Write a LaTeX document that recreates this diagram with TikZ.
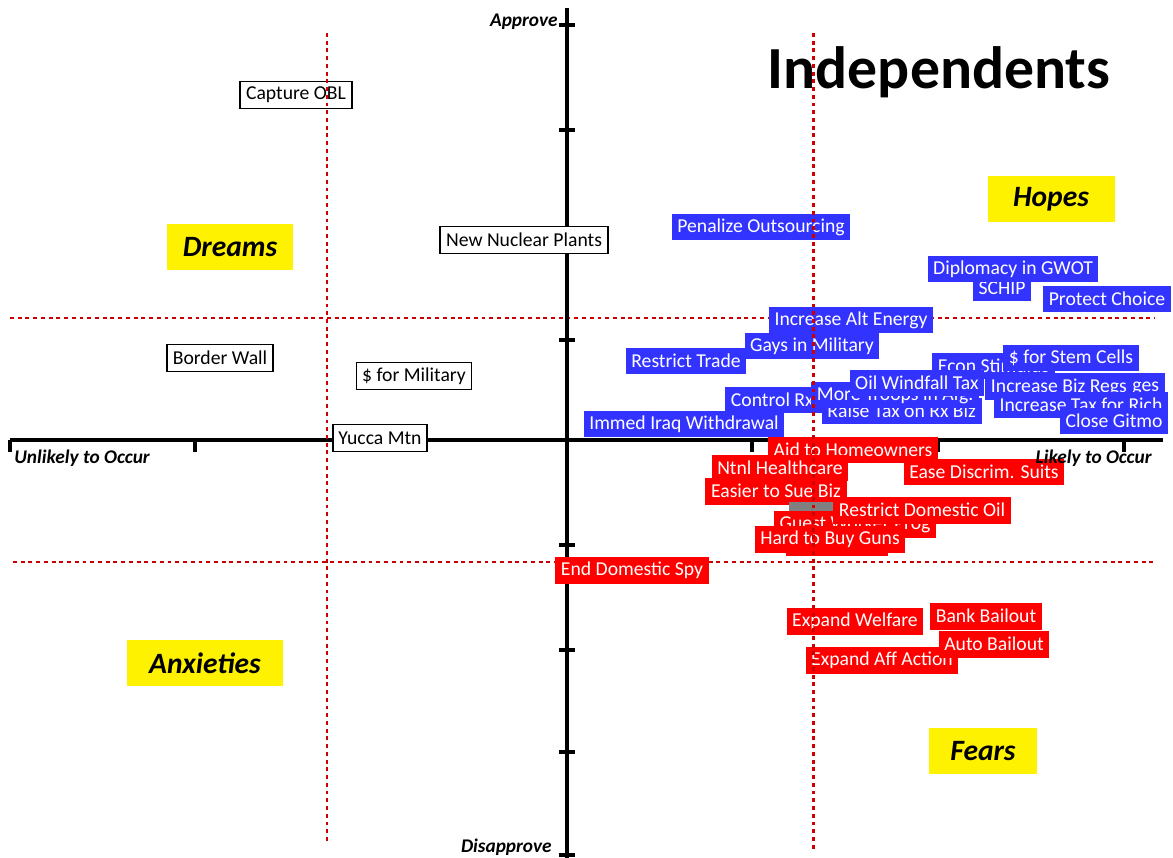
\documentclass[tikz,border=0pt]{standalone}
\usepackage{fontspec}
\setmainfont{Carlito}
\usetikzlibrary{positioning}
\definecolor{hopeblue}{RGB}{51,51,255}
\definecolor{fearred}{RGB}{255,0,0}
\definecolor{guidered}{RGB}{204,0,0}
\definecolor{hiddengrey}{RGB}{128,128,128}

\begin{document}
\begin{tikzpicture}[
    x=0.02cm, y=-0.02cm,
    issue/.style={rectangle, inner xsep=3.2pt, inner ysep=0pt, minimum height=0.54cm, font=\fontsize{11.2}{13}\selectfont},
    plain/.style={issue, draw=black, line width=1.1pt, fill=white, text=black},
    hope/.style={issue, fill=hopeblue, text=white},
    fear/.style={issue, fill=fearred, text=white},
    quad/.style={rectangle, fill=yellow, minimum height=0.92cm, font=\fontsize{16.8}{19}\selectfont\bfseries\itshape},
    axislabel/.style={inner sep=0pt, font=\fontsize{11}{13}\selectfont\bfseries\itshape},
    axis/.style={line width=2.8pt},
    tick/.style={line width=2pt},
    guide/.style={guidered, line width=1.7pt, dash pattern=on 2.2pt off 2.2pt}
]
    \useasboundingbox (0,0) rectangle (1173,858);

    % horizontal guides
    \draw[guide] (10,318) -- (1155,318);
    \draw[guide] (13,562) -- (1155,562);

    % axes
    \draw[axis] (10,440) -- (1163,440);
    \draw[axis] (567,8) -- (567,858);
    \foreach \tx in {10,195,381,752,938,1124}
        \draw[tick] (\tx,440) -- (\tx,452);
    \foreach \ty in {25,130,235,340,545,650,752,855}
        \draw[tick] (559,\ty) -- (575,\ty);

    \node[font=\fontsize{34}{38}\selectfont\bfseries] (title) at (939,72) {Independents};

    % quadrants
    \node[quad, minimum width=2.54cm] (dreams) at (230,247) {Dreams};
    \node[quad, minimum width=2.54cm] (hopes) at (1051,199) {Hopes};
    \node[quad, minimum width=3.12cm] (anxieties) at (205,663) {Anxieties};
    \node[quad, minimum width=2.16cm] (fears) at (983,751) {Fears};

    % unlikely issues
    \node[plain] (capture) at (296,95) {Capture OBL};
    \node[plain] (nuclear) at (524,240) {New Nuclear Plants};
    \node[plain] (wall) at (220,358) {Border Wall};
    \node[plain] (military) at (414,376) {\$ for Military};
    \node[plain] (yucca) at (380,438) {Yucca Mtn};

    % hopes
    \node[hope] (outsourcing) at (761,227) {Penalize Outsourcing};
    \node[hope] (schip) at (1002,288) {SCHIP};
    \node[hope] (gwot) at (1013,269) {Diplomacy in GWOT};
    \node[hope] (choice) at (1107,299) {Protect Choice};
    \node[hope] (altenergy) at (851,320) {Increase Alt Energy};
    \node[hope] (gays) at (812,346) {Gays in Military};
    \node[hope] (trade) at (686,361) {Restrict Trade};
    \node[hope, anchor=west] (stimulus) at (932,366) {Econ Stimulus};
    \node[hope] (stemcells) at (1071,358) {\$ for Stem Cells};
    \node[hope, anchor=east] (wages) at (1165,386) {Increase Min Wages};
    \node[hope, anchor=west] (bizregs) at (985,387) {Increase Biz Regs};
    \node[hope, anchor=west] (rxcontrol) at (725,400) {Control Rx Prices};
    \node[hope, anchor=east] (rxtax) at (982,411) {Raise Tax on Rx Biz};
    \node[hope, anchor=west] (troops) at (811,395) {More Troops in Afg.};
    \node[hope] (windfall) at (917,383) {Oil Windfall Tax};
    \node[hope] (richtax) at (1081,405) {Increase Tax for Rich};
    \node[hope] (gitmo) at (1114,421) {Close Gitmo};
    \node[hope] (iraq) at (684,424) {Immed Iraq Withdrawal};

    % fears
    \node[fear] (homeowners) at (853,450) {Aid to Homeowners};
    \node[fear] (healthcare) at (780,468) {Ntnl Healthcare};
    \node[fear] (discrim) at (984,472) {Ease Discrim. Suits};
    \node[fear] (suebiz) at (776,491) {Easier to Sue Biz};
    \node[issue, fill=hiddengrey, text=white, anchor=west, minimum width=4.32cm, minimum height=0.44cm] (planb) at (789,513) {Plan B Pill};
    \node[fear] (guest) at (855,524) {Guest Worker Prog};
    \node[fear] (domoil) at (922,510) {Restrict Domestic Oil};
    \node[fear, minimum width=2.04cm, minimum height=0.32cm] (spare) at (837,548) {};
    \node[fear] (guns) at (830,539) {Hard to Buy Guns};
    \node[fear] (spy) at (632,570) {End Domestic Spy};
    \node[fear] (welfare) at (855,621) {Expand Welfare};
    \node[fear] (bank) at (986,616) {Bank Bailout};
    \node[fear] (affaction) at (882,660) {Expand Aff Action};
    \node[fear] (auto) at (994,644) {Auto Bailout};

    % vertical guides
    \draw[guide] (327,33) -- (327,843);
    \draw[guide] (813,33) -- (813,850);

    % axis labels
    \node[axislabel, anchor=east] (approve) at (558,22) {Approve};
    \node[axislabel, anchor=east] (disapprove) at (552,847) {Disapprove};
    \node[axislabel, anchor=west] (unlikely) at (14,458) {Unlikely to Occur};
    \node[axislabel, anchor=east] (likely) at (1152,458) {Likely to Occur};
\end{tikzpicture}
\end{document}
